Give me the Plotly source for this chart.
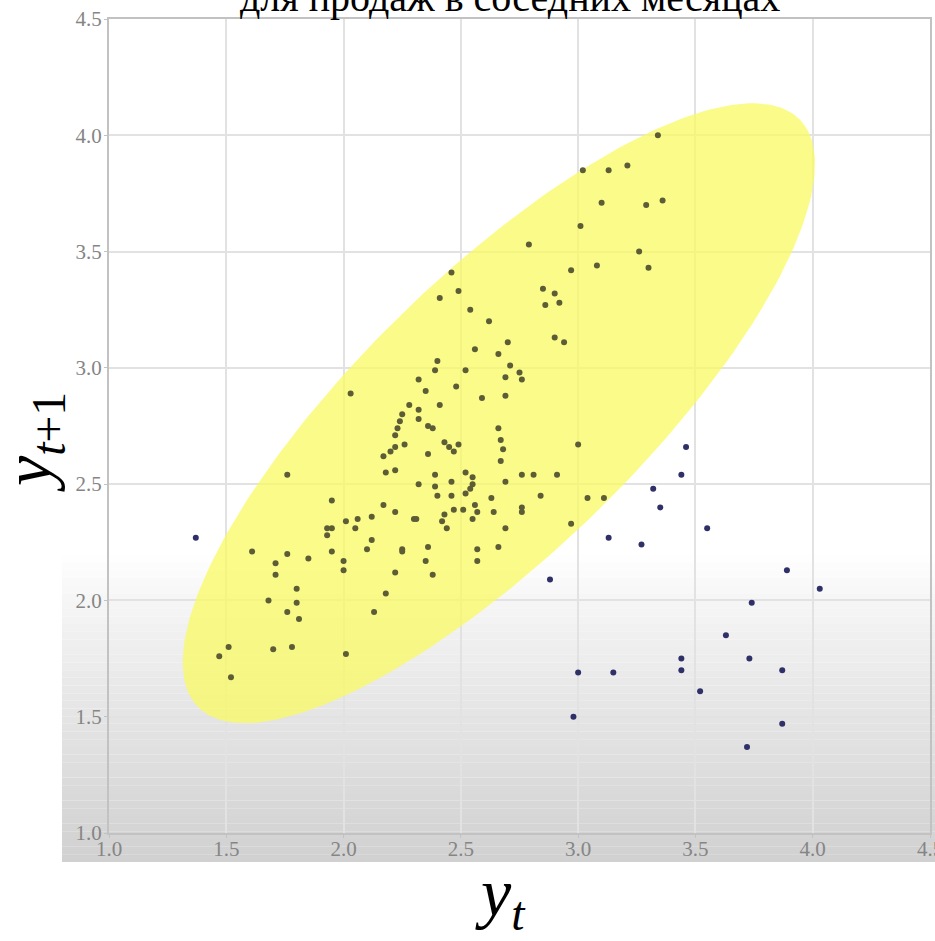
import numpy as np
import plotly.graph_objects as go

# ---- data: (y_t, y_{t+1}) pairs ----
# points lying inside the highlighted (yellow) region
in_x = [2.54, 2.62, 2.70, 2.56, 2.66, 2.40, 2.39, 2.52, 2.71, 2.75, 2.76, 2.69, 2.32, 2.35, 2.48, 2.69,
        2.59, 2.03, 2.28, 2.32, 2.41, 2.25, 2.24, 2.32, 2.36, 2.38, 2.23, 2.22, 2.66, 2.67, 2.43, 2.45,
        2.49, 2.26, 2.22, 2.20, 2.68, 2.47, 2.17, 2.36, 2.67, 2.18, 2.22, 2.39, 2.52, 2.55, 2.76, 2.81,
        1.76, 2.69, 2.32, 2.39, 2.46, 2.55, 2.54, 2.52, 2.40, 2.46, 2.84, 2.63, 1.95, 2.17, 2.22, 2.47,
        2.51, 2.56, 2.57, 2.76, 2.76, 2.64, 2.12, 2.06, 2.30, 2.31, 2.43, 2.01, 2.42, 2.55, 1.93, 1.95,
        2.05, 2.44, 2.69, 1.93, 2.12, 2.10, 2.25, 2.25, 2.36, 2.57, 2.66, 1.95, 1.61, 1.76, 1.85, 1.71,
        2.00, 2.00, 2.35, 2.57, 1.71, 2.22, 2.38, 1.80, 1.68, 1.80, 2.18, 2.13, 1.76, 1.81, 1.51, 1.47,
        1.70, 1.78, 2.01, 1.52,
        3.00, 2.91, 3.04, 3.11, 2.97,
        3.34, 3.02, 3.13, 3.21, 3.10, 3.29, 3.36, 3.01, 3.26,
        2.79, 2.97, 3.08, 3.30, 2.46, 2.49, 2.41, 2.85, 2.90, 2.86, 2.92, 2.90, 2.94]
in_y = [3.25, 3.20, 3.11, 3.08, 3.06, 3.03, 2.99, 2.99, 3.01, 2.98, 2.95, 2.96, 2.95, 2.90, 2.92, 2.88,
        2.87, 2.89, 2.84, 2.82, 2.84, 2.80, 2.77, 2.78, 2.75, 2.74, 2.74, 2.71, 2.74, 2.69, 2.68, 2.66,
        2.67, 2.67, 2.66, 2.64, 2.65, 2.64, 2.62, 2.63, 2.60, 2.55, 2.56, 2.54, 2.55, 2.53, 2.54, 2.54,
        2.54, 2.51, 2.50, 2.49, 2.51, 2.50, 2.48, 2.46, 2.45, 2.45, 2.45, 2.44, 2.43, 2.41, 2.38, 2.39,
        2.39, 2.41, 2.38, 2.40, 2.38, 2.38, 2.36, 2.35, 2.35, 2.35, 2.37, 2.34, 2.34, 2.35, 2.31, 2.31,
        2.31, 2.31, 2.31, 2.28, 2.26, 2.22, 2.22, 2.21, 2.23, 2.22, 2.23, 2.21, 2.21, 2.20, 2.18, 2.16,
        2.17, 2.13, 2.17, 2.17, 2.11, 2.12, 2.11, 2.05, 2.00, 1.99, 2.03, 1.95, 1.95, 1.92, 1.80, 1.76,
        1.79, 1.80, 1.77, 1.67,
        2.67, 2.54, 2.44, 2.44, 2.33,
        4.00, 3.85, 3.85, 3.87, 3.71, 3.70, 3.72, 3.61, 3.50,
        3.53, 3.42, 3.44, 3.43, 3.41, 3.33, 3.30, 3.34, 3.32, 3.27, 3.28, 3.13, 3.11]

# points lying outside the highlighted region
out_x = [1.37, 2.88, 3.46, 3.44, 3.32, 3.35, 3.55, 3.13, 3.27, 3.89, 4.03, 3.74, 3.63, 3.44, 3.73,
         3.00, 3.15, 3.44, 3.87, 3.52, 2.98, 3.87, 3.72]
out_y = [2.27, 2.09, 2.66, 2.54, 2.48, 2.40, 2.31, 2.27, 2.24, 2.13, 2.05, 1.99, 1.85, 1.75, 1.75,
         1.69, 1.69, 1.70, 1.70, 1.61, 1.50, 1.47, 1.37]

# highlighted ellipse (centre, semi-axes, rotation in degrees)
ell_cx, ell_cy = 2.662, 2.805
ell_a, ell_b = 1.80, 0.594
ell_angle = 44.6

tick_vals = [1.0, 1.5, 2.0, 2.5, 3.0, 3.5, 4.0, 4.5]
tick_text = ["1.0", "1.5", "2.0", "2.5", "3.0", "3.5", "4.0", "4.5"]

title_text = "для продаж в соседних месяцах"

# ---- figure ----
W, H = 935, 941
ML, MR, MT, MB = 109, 5, 19, 108
pw, ph = W - ML - MR, H - MT - MB


def px_to_paper_x(px):
    return (px - ML) / pw


def py_to_paper_y(py):
    return (H - MB - py) / ph


t = np.linspace(0, 2 * np.pi, 240)
th = np.deg2rad(ell_angle)
ex = ell_cx + ell_a * np.cos(t) * np.cos(th) - ell_b * np.sin(t) * np.sin(th)
ey = ell_cy + ell_a * np.cos(t) * np.sin(th) + ell_b * np.sin(t) * np.cos(th)

fig = go.Figure()
fig.add_trace(go.Scatter(x=ex, y=ey, mode="lines", fill="toself",
                         fillcolor="rgba(250,250,100,0.76)", line=dict(width=0),
                         hoverinfo="skip", showlegend=False))
fig.add_trace(go.Scatter(x=in_x, y=in_y, mode="markers",
                         marker=dict(size=6, color="#5c5c36", line=dict(width=0)),
                         showlegend=False))
fig.add_trace(go.Scatter(x=out_x, y=out_y, mode="markers",
                         marker=dict(size=6, color="#303068", line=dict(width=0)),
                         showlegend=False))

# photographed-slide shading: white top fading to grey at the bottom
shapes = []
y0, y1 = 555, 862
n = 40
for i in range(n):
    a = y0 + (y1 - y0) * i / n
    b = y0 + (y1 - y0) * (i + 1) / n
    frac = (i + 0.5) / n
    g = int(round(255 - 46 * frac ** 0.85))
    shapes.append(dict(type="rect", xref="paper", yref="paper",
                       x0=px_to_paper_x(62), x1=px_to_paper_x(W + 2),
                       y0=py_to_paper_y(b), y1=py_to_paper_y(a),
                       fillcolor=f"rgb({g},{g},{g})", line=dict(width=0), layer="below"))

axis_common = dict(range=[1.0, 4.5], tickvals=tick_vals, ticktext=tick_text,
                   showgrid=True, gridcolor="#e2e2e2", gridwidth=1.5,
                   showline=True, linecolor="#c2c2c2", linewidth=2, mirror=True,
                   ticks="outside", ticklen=3, tickcolor="#c2c2c2",
                   tickfont=dict(family="Liberation Serif", size=21, color="#858585"),
                   ticklabeloverflow="allow",
                   zeroline=False, automargin=False, fixedrange=True)

fig.update_layout(
    template="none",
    width=W, height=H,
    margin=dict(l=ML, r=MR, t=MT, b=MB, pad=0),
    paper_bgcolor="white", plot_bgcolor="rgba(0,0,0,0)",
    xaxis=dict(axis_common, ticklabelstandoff=-7),
    yaxis=dict(axis_common, ticklabelstandoff=-2),
    shapes=shapes,
    showlegend=False,
    annotations=[
        dict(text=title_text, xref="paper", yref="paper",
             x=px_to_paper_x(510), y=py_to_paper_y(-3), xanchor="center", yanchor="middle",
             showarrow=False, font=dict(family="Liberation Serif", size=40, color="black")),
        dict(text="<i>y</i><sub><i>t</i>+1</sub>", xref="paper", yref="paper",
             x=px_to_paper_x(33), y=py_to_paper_y(442), xanchor="center", yanchor="middle",
             textangle=-90, showarrow=False,
             font=dict(family="Liberation Serif", size=68, color="black")),
        dict(text="<i>y</i><sub><i>t</i></sub>", xref="paper", yref="paper",
             x=px_to_paper_x(500), y=py_to_paper_y(897), xanchor="center", yanchor="middle",
             showarrow=False, font=dict(family="Liberation Serif", size=68, color="black")),
    ],
)

fig.write_html("out.html")
